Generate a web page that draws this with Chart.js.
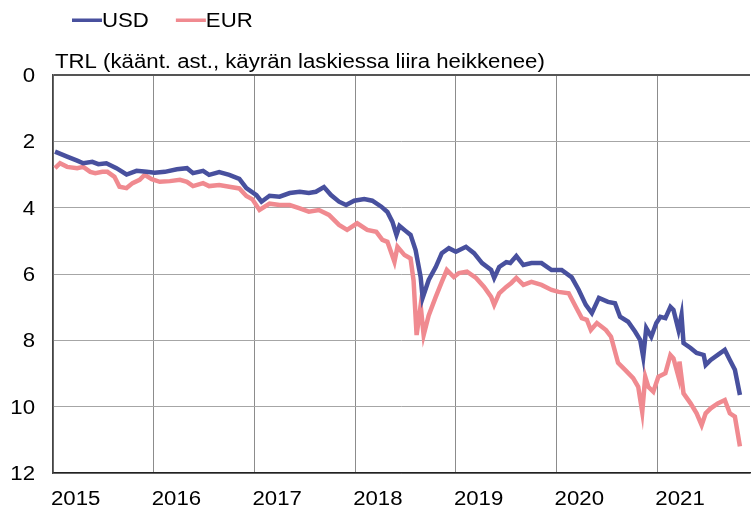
<!DOCTYPE html>
<html>
<head>
<meta charset="utf-8">
<script src="https://cdn.jsdelivr.net/npm/chart.js@4.4.0/dist/chart.umd.min.js"></script>
<style>
  html, body { margin: 0; padding: 0; background: #fff; }
  #wrap { width: 752px; height: 511px; position: relative; }
</style>
</head>
<body>
<div id="wrap"><canvas id="fx"></canvas></div>
<script>
// TRY per USD (x in decimal years)
const usdX = [2015.02,2015.14,2015.24,2015.30,2015.39,2015.45,2015.53,2015.63,2015.73,2015.83,2015.93,
  2016.01,2016.11,2016.23,2016.33,2016.39,2016.49,2016.55,2016.65,2016.75,2016.85,2016.92,
  2017.02,2017.07,2017.15,2017.25,2017.35,2017.45,2017.54,2017.61,2017.69,2017.76,2017.84,2017.91,2017.99,
  2018.09,2018.17,2018.26,2018.32,2018.37,2018.41,2018.44,2018.50,2018.55,2018.60,2018.65,2018.67,2018.73,2018.80,2018.86,2018.93,
  2019.00,2019.10,2019.18,2019.26,2019.35,2019.38,2019.43,2019.50,2019.54,2019.60,2019.67,2019.75,2019.85,2019.95,
  2020.05,2020.15,2020.22,2020.29,2020.35,2020.42,2020.51,2020.58,2020.63,2020.71,2020.78,2020.83,2020.86,2020.89,2020.94,2020.99,
  2021.03,2021.08,2021.13,2021.16,2021.21,2021.24,2021.26,2021.33,2021.39,2021.46,2021.48,2021.53,2021.60,2021.67,2021.72,2021.77,2021.82]
const usdY = [2.31,2.46,2.58,2.66,2.62,2.69,2.66,2.81,3.00,2.89,2.92,
  2.95,2.92,2.84,2.81,2.96,2.89,3.01,2.93,3.01,3.13,3.41,
  3.62,3.82,3.64,3.67,3.56,3.52,3.56,3.52,3.38,3.62,3.82,3.92,3.79,
  3.74,3.79,3.97,4.13,4.43,4.82,4.55,4.70,4.82,5.28,6.09,6.72,6.18,5.79,5.37,5.22,
  5.33,5.18,5.37,5.67,5.88,6.12,5.79,5.64,5.67,5.46,5.73,5.67,5.67,5.88,
  5.88,6.10,6.48,6.93,7.18,6.72,6.84,6.88,7.29,7.44,7.74,7.99,8.50,7.63,7.89,7.48,
  7.29,7.33,6.99,7.08,7.69,7.24,8.08,8.23,8.38,8.44,8.74,8.59,8.44,8.29,8.59,8.89,9.65]

// TRY per EUR
const eurX = [2015.02,2015.07,2015.14,2015.24,2015.30,2015.37,2015.42,2015.49,2015.54,2015.61,2015.66,2015.73,2015.79,2015.86,2015.91,2015.98,
  2016.06,2016.16,2016.26,2016.33,2016.39,2016.49,2016.55,2016.65,2016.75,2016.85,2016.92,2016.98,
  2017.05,2017.15,2017.25,2017.35,2017.45,2017.54,2017.64,2017.74,2017.84,2017.92,
  2018.02,2018.12,2018.21,2018.27,2018.32,2018.39,2018.42,2018.49,2018.55,2018.58,2018.61,2018.65,2018.68,2018.73,2018.80,2018.86,2018.91,2018.98,
  2019.03,2019.11,2019.20,2019.28,2019.35,2019.38,2019.43,2019.50,2019.55,2019.60,2019.67,2019.75,2019.85,2019.95,
  2020.02,2020.12,2020.19,2020.25,2020.30,2020.34,2020.40,2020.49,2020.54,2020.61,2020.68,2020.76,2020.81,2020.85,2020.88,2020.91,2020.96,
  2021.01,2021.08,2021.13,2021.16,2021.21,2021.22,2021.26,2021.33,2021.39,2021.44,2021.48,2021.53,2021.60,2021.67,2021.72,2021.77,2021.82]
const eurY = [2.81,2.66,2.77,2.81,2.77,2.92,2.96,2.92,2.92,3.07,3.37,3.41,3.26,3.16,3.01,3.14,
  3.22,3.20,3.16,3.22,3.35,3.26,3.35,3.32,3.37,3.42,3.65,3.75,
  4.07,3.88,3.92,3.92,4.02,4.12,4.07,4.22,4.52,4.67,
  4.47,4.67,4.73,4.97,5.03,5.63,5.18,5.43,5.53,6.20,7.84,6.95,7.84,7.25,6.69,6.24,5.88,6.09,
  5.97,5.93,6.12,6.39,6.69,6.93,6.58,6.39,6.27,6.12,6.33,6.24,6.33,6.48,
  6.54,6.58,6.99,7.33,7.38,7.69,7.48,7.69,7.89,8.68,8.89,9.14,9.40,10.16,9.10,9.40,9.55,
  9.10,8.99,8.44,8.54,9.10,8.64,9.60,9.90,10.20,10.56,10.20,10.05,9.90,9.80,10.20,10.30,11.20]

const years = [2015,2016,2017,2018,2019,2020,2021]
const yTicks = [0,2,4,6,8,10,12]
const axisNote = 'TRL (käänt. ast., käyrän laskiessa liira heikkenee)'
const FONT = '20px "Liberation Sans", Arial, sans-serif'
const SX = 1.11   // text in the original is a little wider than tall

function pts(xs, ys){
  return xs.map((x, i) => ({x: x, y: ys[i]}))
}

function wideText(c, str, x, y, align){
  c.save()
  c.translate(x, y)
  c.scale(SX, 1)
  c.textAlign = align || 'left'
  c.fillText(str, 0, 0)
  c.restore()
}

// tick labels, axis note and legend, drawn with the stretched font
const texts = {
  id: 'texts',
  afterDraw(chart){
    const c = chart.ctx
    const area = chart.chartArea
    const xs = chart.scales.x
    const ys = chart.scales.y
    c.save()
    c.font = FONT
    c.fillStyle = '#000'
    c.textBaseline = 'alphabetic'

    years.forEach(v => wideText(c, String(v), xs.getPixelForValue(v) - 2, 505, 'left'))
    yTicks.forEach(v => wideText(c, String(v), 35, ys.getPixelForValue(v) + 7, 'right'))

    wideText(c, axisNote, area.left + 2, area.top - 7, 'left')

    let x = 72
    chart.data.datasets.forEach(ds => {
      c.fillStyle = ds.borderColor
      c.fillRect(x, 18.5, 30, 3.5)
      c.fillStyle = '#000'
      wideText(c, ds.label, x + 30, 27, 'left')
      x += 30 + c.measureText(ds.label).width * SX + 27
    })
    c.restore()
  }
}

new Chart(document.getElementById('fx'), {
  type: 'line',
  data: {
    datasets: [
      { label: 'USD', data: pts(usdX, usdY), borderColor: '#48509e', backgroundColor: '#48509e',
        borderWidth: 4.5, pointRadius: 0, tension: 0 },
      { label: 'EUR', data: pts(eurX, eurY), borderColor: '#f08a90', backgroundColor: '#f08a90',
        borderWidth: 4.5, pointRadius: 0, tension: 0 }
    ]
  },
  options: {
    responsive: true,
    maintainAspectRatio: false,
    animation: false,
    layout: { padding: { top: 75, right: 2, left: 0, bottom: 0 } },
    plugins: {
      legend: { display: false },
      tooltip: { enabled: false }
    },
    scales: {
      x: {
        type: 'linear',
        min: 2015,
        max: 2021.92,
        afterBuildTicks: s => { s.ticks = years.map(v => ({value: v})) },
        afterFit: s => { s.height = 38 },
        ticks: { display: false },
        grid: { color: '#8c8c8c', lineWidth: 1, drawTicks: false },
        border: { color: '#222', width: 1.5 }
      },
      y: {
        reverse: true,
        min: 0,
        max: 12,
        afterBuildTicks: s => { s.ticks = yTicks.map(v => ({value: v})) },
        afterFit: s => { s.width = 53 },
        ticks: { display: false },
        grid: {
          color: c => c.tick && c.tick.value === 0 ? '#555' : '#a6a6a6',
          lineWidth: c => c.tick && c.tick.value === 0 ? 2 : 1,
          drawTicks: false
        },
        border: { color: '#444', width: 1.5 }
      }
    }
  },
  plugins: [texts]
})
</script>
</body>
</html>
